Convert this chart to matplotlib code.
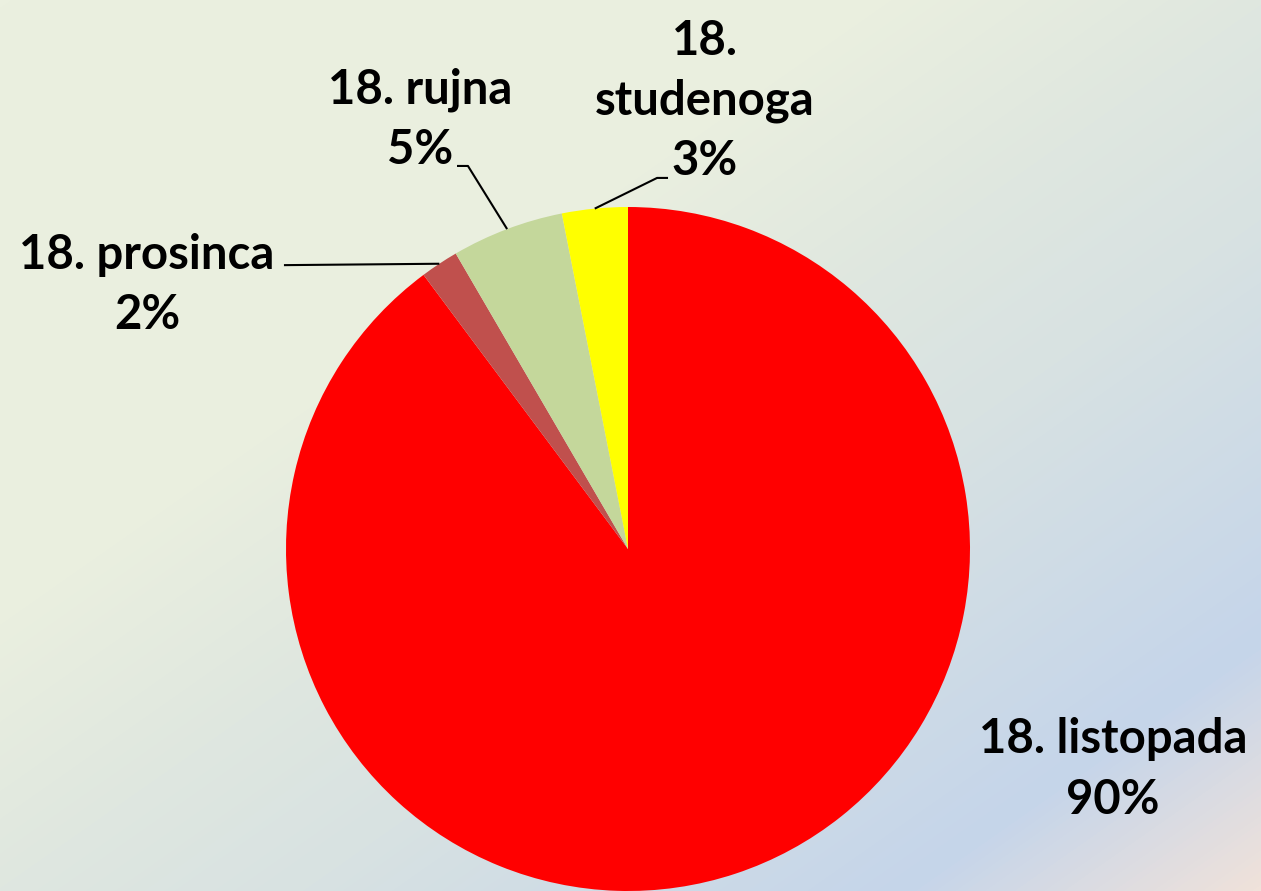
import matplotlib
matplotlib.use("Agg")
import matplotlib.pyplot as plt
import numpy as np
from matplotlib.colors import LinearSegmentedColormap

# data
labels = ["18. listopada", "18. prosinca", "18. rujna", "18.\nstudenoga"]
shares = [89.8, 1.8, 5.3, 3.1]
colors = ["#FF0000", "#C0504D", "#C4D79B", "#FFFF00"]

W, H = 1261, 891
fig = plt.figure(figsize=(W / 100, H / 100), dpi=100)

# diagonal background gradient (cream -> blue -> peach)
bg = fig.add_axes([0, 0, 1, 1], zorder=0)
yy, xx = np.mgrid[0:H, 0:W]
t = (0.574 * xx + 0.819 * yy) / (0.574 * W + 0.819 * H)
bg_cmap = LinearSegmentedColormap.from_list(
    "bg",
    [(0.0, "#EBF0E0"), (0.35, "#EAEFDF"), (0.5, "#DFE7E0"), (0.62, "#D8E2E2"),
     (0.86, "#C5D5EA"), (1.0, "#F0E2DA")],
)
bg.imshow(t, cmap=bg_cmap, aspect="auto", extent=[0, W, H, 0], vmin=0, vmax=1)
bg.axis("off")

ax = fig.add_axes([0, 0, 1, 1], zorder=1)
ax.patch.set_alpha(0)

wedges, _ = ax.pie(
    shares,
    colors=colors,
    startangle=90,
    counterclock=False,
    radius=1.0,
    wedgeprops=dict(linewidth=0),
)

# pie centre at (628, 549) px, radius 342 px
R = 342.0
cx, cy = 628.0, 549.0
ax.set_xlim(-cx / R, (W - cx) / R)
ax.set_ylim(-(H - cy) / R, cy / R)
ax.set_aspect("equal", adjustable="datalim")
ax.axis("off")

font = dict(family=["Lato", "DejaVu Sans"], fontweight="bold", fontsize=34,
            color="black", ha="center", va="center", linespacing=1.45)

# label positions (in pie-radius units) and leader line elbows
label_pos = [(1.418, -0.645), (-1.406, 0.772), (-0.608, 1.254), (0.225, 1.310)]
leaders = [
    None,
    [(-1.006, 0.830)],
    [(-0.468, 1.120), (-0.500, 1.120)],
    [(0.085, 1.085), (0.117, 1.085)],
]

for w, lab, val, pos, lead in zip(wedges, labels, shares, label_pos, leaders):
    ax.text(pos[0], pos[1], f"{lab}\n{round(val):.0f}%", **font)
    if lead is not None:
        mid = np.deg2rad((w.theta1 + w.theta2) / 2)
        pts = [(np.cos(mid), np.sin(mid))] + lead
        xs, ys = zip(*pts)
        ax.plot(xs, ys, color="black", lw=1.5, solid_capstyle="butt")

fig.savefig("out.png", dpi=100)
